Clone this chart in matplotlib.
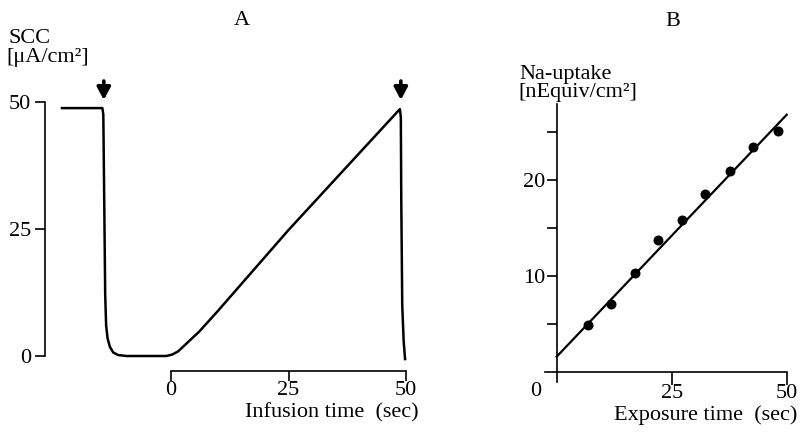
import matplotlib
matplotlib.use("Agg")
import matplotlib.pyplot as plt

plt.rcParams['font.family'] = ['Liberation Serif', 'DejaVu Serif']

# Panel A: SCC trace (time in s, SCC in uA/cm2)
a_time = [-23.2, -14.6, -14.4, -14.2, -14.0, -13.8, -13.5, -13.0, -12.3, -11.3, -9.5,
          -1.0, 0.3, 1.5, 3.0, 6.0, 10.0, 25.0, 48.7, 48.9, 49.0, 49.2, 49.5, 49.8]
a_scc = [48.8, 48.8, 47.5, 30.0, 12.0, 6.0, 3.5, 1.8, 0.7, 0.2, 0.0,
         0.0, 0.3, 0.9, 2.2, 4.8, 8.9, 24.8, 48.6, 47.0, 30.0, 10.0, 3.0, -0.6]
a_arrows_x = [-14.3, 48.9]
a_xticks = [0, 25, 50]
a_yticks = [0, 25, 50]

# Panel B: Na uptake vs exposure time
b_time = [6.9, 11.7, 17.1, 22.1, 27.2, 32.2, 37.7, 42.6, 48.0]
b_uptake = [4.9, 7.1, 10.3, 13.8, 15.8, 18.5, 20.9, 23.4, 25.1]
b_fit_x = [0, 50]
b_fit_y = [1.6, 26.8]
b_xticks = [25, 50]
b_yticks = [5, 10, 15, 20, 25]
b_ylabels = ['', '10', '', '20', '']

W, H = 803, 433
fig = plt.figure(figsize=(W / 100, H / 100), dpi=100)

def px_axes(l, r, t, b):
    return fig.add_axes([l / W, 1 - b / H, (r - l) / W, (b - t) / H])

def fy(py):
    return 1 - py / H

FS = 16
LW_AX = 1.2

# ---------- Panel A ----------
axA = px_axes(45, 412, 70, 380)
sx, sy = 4.7, 5.08
x0, y0 = 171, 356
axA.set_xlim((45 - x0) / sx, (412 - x0) / sx)
axA.set_ylim((y0 - 380) / sy, (y0 - 70) / sy)
axA.plot(a_time, a_scc, color='black', lw=1.8, solid_joinstyle='round')
for s in ['top', 'right']:
    axA.spines[s].set_visible(False)
axA.spines['left'].set_bounds(0, 50)
axA.spines['left'].set_linewidth(LW_AX)
axA.spines['bottom'].set_position(('data', (y0 - 371) / sy))
axA.spines['bottom'].set_bounds(0, 50)
axA.spines['bottom'].set_linewidth(LW_AX)
axA.set_xticks(a_xticks)
axA.set_yticks(a_yticks)
axA.tick_params(axis='y', direction='out', length=7, width=LW_AX, labelsize=FS, pad=3)
axA.tick_params(axis='x', direction='out', length=7, width=LW_AX, labelsize=FS, pad=0)
for xa in a_arrows_x:
    axA.annotate('', xy=(xa, (y0 - 100) / sy), xytext=(xa, (y0 - 81) / sy),
                 arrowprops=dict(arrowstyle='-|>,head_length=0.75,head_width=0.4',
                                 lw=2.6, color='black', shrinkA=0, shrinkB=0),
                 annotation_clip=False)
fig.text(242 / W, fy(25), 'A', ha='center', va='baseline', fontsize=FS)
fig.text(8 / W, fy(43), 'SCC', ha='left', va='baseline', fontsize=FS)
fig.text(6 / W, fy(62), '[μA/cm²]', ha='left', va='baseline', fontsize=FS)
fig.text(419 / W, fy(417), 'Infusion time  (sec)', ha='right', va='baseline', fontsize=FS)

# ---------- Panel B ----------
axB = px_axes(535, 797, 70, 392)
bx, by = 4.6, 9.6
bx0, by0 = 556.7, 372
axB.set_xlim((535 - bx0) / bx, (797 - bx0) / bx)
axB.set_ylim((by0 - 392) / by, (by0 - 70) / by)
axB.plot(b_fit_x, b_fit_y, color='black', lw=1.6)
axB.scatter(b_time, b_uptake, s=38, color='black', zorder=3)
for s in ['top', 'right']:
    axB.spines[s].set_visible(False)
axB.spines['left'].set_position(('data', 0))
axB.spines['left'].set_bounds(-1.0, 27.9)
axB.spines['left'].set_linewidth(LW_AX)
axB.spines['bottom'].set_position(('data', 0))
axB.spines['bottom'].set_bounds(-2.5, 50)
axB.spines['bottom'].set_linewidth(LW_AX)
axB.set_xticks(b_xticks)
axB.set_yticks(b_yticks)
axB.set_yticklabels(b_ylabels)
axB.tick_params(axis='y', direction='out', length=7, width=LW_AX, labelsize=FS, pad=1)
axB.tick_params(axis='x', direction='out', length=9, width=LW_AX, labelsize=FS, pad=0)
axB.text((536 - bx0) / bx, (by0 - 391) / by, '0', ha='center', va='center', fontsize=FS)
fig.text(673 / W, fy(26), 'B', ha='center', va='baseline', fontsize=FS)
fig.text(519 / W, fy(79), 'Na-uptake', ha='left', va='baseline', fontsize=FS)
fig.text(518 / W, fy(97), '[nEquiv/cm²]', ha='left', va='baseline', fontsize=FS)
fig.text(797 / W, fy(420), 'Exposure time  (sec)', ha='right', va='baseline', fontsize=FS)

fig.savefig('out.png', dpi=100)
